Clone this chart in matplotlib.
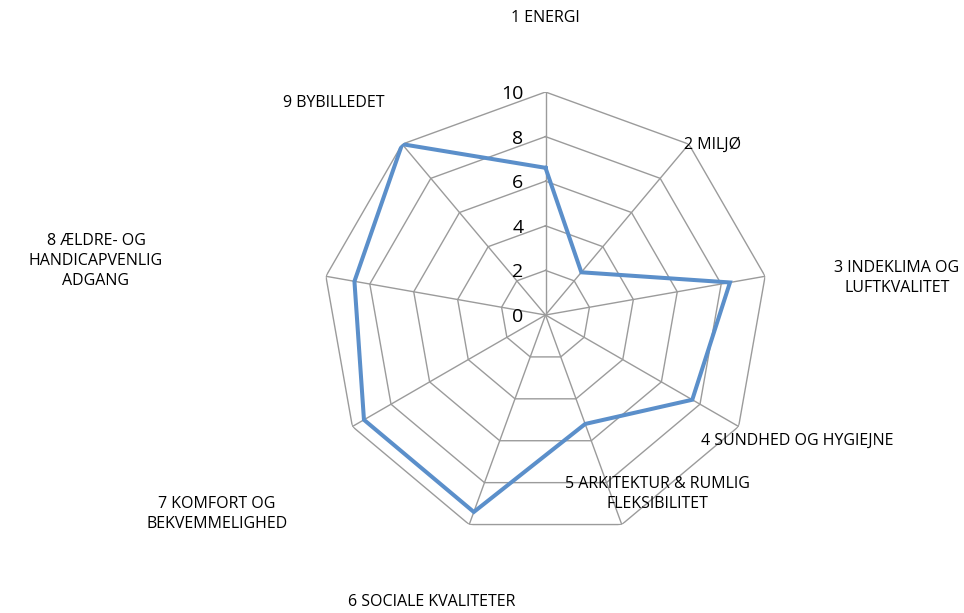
import numpy as np
import matplotlib.pyplot as plt
from matplotlib.transforms import offset_copy

# --- DATA ---
categories = ["1 ENERGI", "2 MILJØ", "3 INDEKLIMA OG\nLUFTKVALITET", "4 SUNDHED OG HYGIEJNE",
              "5 ARKITEKTUR & RUMLIG\nFLEKSIBILITET", "6 SOCIALE KVALITETER",
              "7 KOMFORT OG\nBEKVEMMELIGHED", "8 ÆLDRE- OG\nHANDICAPVENLIG\nADGANG", "9 BYBILLEDET"]
values = [6.6, 2.5, 8.4, 7.6, 5.2, 9.4, 9.4, 8.7, 10.0]
levels = [2, 4, 6, 8, 10]
tick_labels = ["0", "2", "4", "6", "8", "10"]

# label anchor points (pixels in a 964x613 canvas)
label_pos = [(545, 18), (713, 145), (897, 278), (797, 441), (657, 494),
             (432, 602), (217, 514), (96, 261), (334, 103)]

W, H = 964, 613
plt.rcParams['font.family'] = ['Open Sans', 'DejaVu Sans']

fig = plt.figure(figsize=(W / 100, H / 100), dpi=100)
cx, cy, rad = 545.5, 315, 223
ax = fig.add_axes([(cx - rad) / W, 1 - (cy + rad) / H, 2 * rad / W, 2 * rad / H], projection='polar')
ax.set_theta_zero_location('N')
ax.set_theta_direction(-1)
ax.set_ylim(0, 10)
ax.axis('off')

n = len(categories)
theta = np.linspace(0, 2 * np.pi, n, endpoint=False)
theta_closed = np.append(theta, theta[0])

grid_col = '#9B9B9B'
for lv in levels:
    ax.plot(theta_closed, [lv] * (n + 1), color=grid_col, lw=1.0, zorder=1)
for t in theta:
    ax.plot([t, t], [0, 10], color=grid_col, lw=1.0, zorder=1)

vals = np.append(values, values[0])
ax.plot(theta_closed, vals, color='#5B8FCA', lw=2.9, zorder=3, solid_joinstyle='miter')

# radial tick labels
trans = offset_copy(ax.transData, fig=fig, x=-22, y=-2, units='dots')
for i, lab in enumerate(tick_labels):
    ax.text(0, i * 2, lab, transform=trans, ha='right', va='center', fontsize=14, color='black')

# category labels
for lab, (px, py) in zip(categories, label_pos):
    fig.text(px / W, 1 - py / H, lab, ha='center', va='center', fontsize=11.5,
             linespacing=1.3, color='black')

fig.savefig('out.png', dpi=100)
